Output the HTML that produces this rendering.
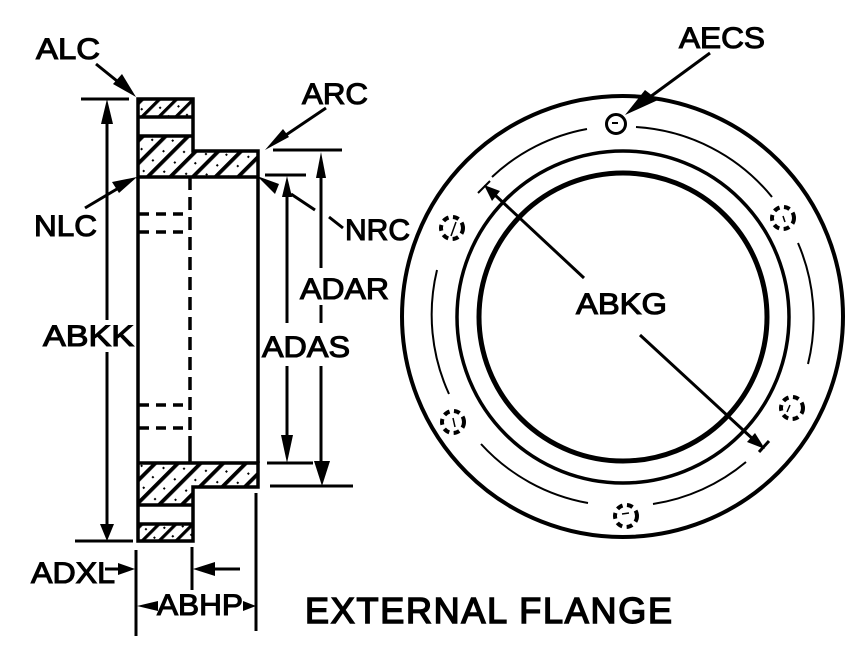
<!DOCTYPE html>
<html>
<head>
<meta charset="utf-8">
<style>
html,body{margin:0;padding:0;background:#fff;width:861px;height:668px;overflow:hidden}
svg{display:block}
text{font-family:"Liberation Sans",Arial,sans-serif;font-size:30px;fill:#000;stroke:#000;stroke-width:1.100px}
</style>
</head>
<body>
<svg width="861" height="668" viewBox="0 0 861 668" xmlns="http://www.w3.org/2000/svg">
<defs>
<pattern id="h" width="16" height="28" patternUnits="userSpaceOnUse" patternTransform="translate(3 2) rotate(45)">
<rect x="0" y="0" width="3.800" height="28" fill="#000"/>
<rect x="9" y="5" width="2" height="2" fill="#000"/>
<rect x="10" y="19" width="2" height="2" fill="#000"/>
</pattern>
<pattern id="h2" width="12" height="14" patternUnits="userSpaceOnUse" patternTransform="translate(1 1) rotate(45)">
<rect x="0" y="0" width="3.200" height="14" fill="#000"/>
<rect x="7" y="4" width="2" height="2" fill="#000"/>
</pattern>
</defs>

<!-- hatched sections -->
<rect x="138" y="99" width="55" height="18" fill="url(#h2)"/>
<path d="M138 136H193V151H258V177H138Z" fill="url(#h)"/>
<path d="M138 463H258V487H193V505H138Z" fill="url(#h)"/>
<rect x="138" y="524" width="55" height="17" fill="url(#h2)"/>

<!-- flange outline -->
<g fill="none" stroke="#000" stroke-width="3.500">
<path d="M138 99H193V151H258V177H138Z"/>
<path d="M138 117H193M138 136H193"/>
<path d="M138 177V541H193V487H258V463H138"/>
<path d="M138 505H193M138 524H193"/>
<path d="M258 177V463"/>
</g>

<!-- hidden lines -->
<g fill="none" stroke="#000" stroke-width="3.500">
<path d="M190 177V436" stroke-dasharray="13 7"/>
<path d="M139 214H190M139 232H190M139 405H190M139 428H190" stroke-dasharray="10 7"/>
<path d="M190 436V463"/>
</g>

<!-- dimension lines -->
<g fill="none" stroke="#000" stroke-width="3">
<path d="M81 99H129M75 541H133"/>
<path d="M107 110V320M107 352V530"/>
<path d="M265 175H306M267 463H313"/>
<path d="M273 150H342M270 486H353"/>
<path d="M287 185V323M287 366V445"/>
<path d="M321 160V268M321 305V323M321 366V465"/>
<path d="M136 550V636M256 493V631M192 547V590"/>
<path d="M105 569H126M240 569H205"/>
<path d="M145 606H158M244 606H250"/>
</g>
<g fill="#000" stroke="none">
<path d="M107 99L113 124H101Z"/>
<path d="M107 541L100 524H114Z"/>
<path d="M287 176L292 197H282Z"/>
<path d="M287 463L281 435H293Z"/>
<path d="M321 152L326 178H316Z"/>
<path d="M322 486L314 461H330Z"/>
<path d="M135 569L118 563V575Z"/>
<path d="M193 569L215 562V576Z"/>
<path d="M137 606L158 601V611Z"/>
<path d="M256 606L243 601V611Z"/>
</g>

<!-- leaders -->
<g fill="none" stroke="#000" stroke-width="3">
<path d="M96 64L122 85"/>
<path d="M85 208L122 186"/>
<path d="M326 108L280 139"/>
<path d="M291 194L315 210M329 217L343 228"/>
<path d="M710 53L650 97"/>
</g>
<g fill="#000" stroke="none">
<path d="M136 97L113 84L122 74Z"/>
<path d="M137 177L112 182L119 193Z"/>
<path d="M265 150L283 129L289 137Z"/>
<path d="M257 176L279 184L275 194Z"/>
<path d="M625 115L645 90L658 100Z"/>
</g>

<!-- circles -->
<g fill="none" stroke="#000">
<circle cx="622.500" cy="316.500" r="220.500" stroke-width="4"/>
<circle cx="623" cy="317" r="144" stroke-width="5"/>
<circle cx="623" cy="317" r="166" stroke-width="3.500"/>
<g stroke-width="2">
<path d="M492 177A188 188 0 0 1 587 129"/>
<path d="M636 127A190 190 0 0 1 772 197"/>
<path d="M798 243A190 190 0 0 1 808 364"/>
<path d="M746 462A190 190 0 0 1 653 504"/>
<path d="M588 503A190 190 0 0 1 481 444"/>
<path d="M449 394A190 190 0 0 1 437 270"/>
</g>
<circle cx="616" cy="124" r="9.500" stroke-width="3"/>
<path d="M612 123H618" stroke-width="2"/>
<g stroke-width="4" stroke-dasharray="6 4.500">
<circle cx="783" cy="218" r="11"/>
<circle cx="792" cy="408" r="11"/>
<circle cx="626" cy="516" r="11"/>
<circle cx="453" cy="422" r="11"/>
<circle cx="452" cy="228" r="11"/>
</g>
<g stroke-width="1.500">
<path d="M783 216L785 222M790 405L787 412M622 514L629 513M453 418L455 427M456 222L451 236"/>
</g>
</g>

<!-- ABKG diameter -->
<g fill="none" stroke="#000" stroke-width="3">
<path d="M495 195L584 278"/>
<path d="M640 335L755 441"/>
<path d="M478 193L490 181" stroke-width="2"/>
<path d="M759 452L769 441" stroke-width="3"/>
</g>
<g fill="#000" stroke="none">
<path d="M484 185L500 191L492 201Z"/>
<path d="M765 449L747 442L755 433Z"/>
</g>

<!-- labels -->
<text x="36" y="59" textLength="64" lengthAdjust="spacingAndGlyphs">ALC</text>
<text x="34" y="236" textLength="63" lengthAdjust="spacingAndGlyphs">NLC</text>
<text x="302" y="104" textLength="66" lengthAdjust="spacingAndGlyphs">ARC</text>
<text x="345" y="240" textLength="65" lengthAdjust="spacingAndGlyphs">NRC</text>
<text x="300" y="299" textLength="89" lengthAdjust="spacingAndGlyphs">ADAR</text>
<text x="262" y="357" textLength="88" lengthAdjust="spacingAndGlyphs">ADAS</text>
<text x="43" y="346" textLength="91" lengthAdjust="spacingAndGlyphs">ABKK</text>
<text x="576" y="314" textLength="91" lengthAdjust="spacingAndGlyphs">ABKG</text>
<text x="679" y="48" textLength="86" lengthAdjust="spacingAndGlyphs">AECS</text>
<text x="31" y="583" textLength="84" lengthAdjust="spacingAndGlyphs">ADXL</text>
<text x="157" y="615" textLength="86" lengthAdjust="spacingAndGlyphs">ABHP</text>
<text x="305" y="623" textLength="367" lengthAdjust="spacing" style="font-size:36px;stroke-width:1.500px">EXTERNAL FLANGE</text>
</svg>
</body>
</html>
